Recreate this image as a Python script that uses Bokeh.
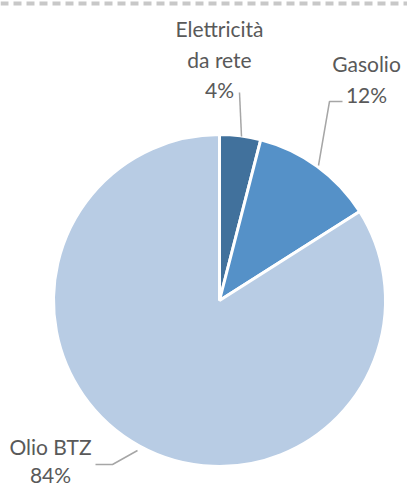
import math
from bokeh.plotting import figure
from bokeh.models import Range1d
from bokeh.core.properties import value
from bokeh.embed import file_html
from bokeh.resources import INLINE

# ---- data ----
categories = ["Elettricità da rete", "Gasolio", "Olio BTZ"]
shares = [4, 12, 84]
colors = ["#41719c", "#5591c8", "#b8cce4"]
label_lines = [["Elettricità", "da rete", "4%"], ["Gasolio", "12%"], ["Olio BTZ", "84%"]]

W, H = 407, 488
p = figure(width=W, height=H, output_backend="svg", toolbar_location=None,
           x_range=Range1d(0, W), y_range=Range1d(0, H),
           x_axis_type=None, y_axis_type=None, min_border=0)
p.grid.visible = False
p.outline_line_color = None
p.background_fill_color = "white"
p.border_fill_color = "white"

def px(xi):
    return xi

def py(yi):
    return H - yi

cx, cy, r = px(219), py(300), 166

# wedges computed from shares
total = sum(shares)
starts, ends = [], []
acc = 0.0
for s in shares:
    a0 = math.pi / 2 - 2 * math.pi * acc / total
    acc += s
    a1 = math.pi / 2 - 2 * math.pi * acc / total
    starts.append(a0)
    ends.append(a1)

p.wedge(x=[cx] * 3, y=[cy] * 3, radius=r, start_angle=starts, end_angle=ends,
        direction="clock", fill_color=colors, line_color="white", line_width=3)

# dashed border at top
p.line([0, W], [py(3), py(3)], line_color="#c8c8c8", line_width=4, line_dash="8 5")

# leader lines
lc = "#a6a6a6"
p.line([px(239), px(241)], [py(92), py(136)], line_color=lc, line_width=1.5)
p.line([px(342), px(329), px(318)], [py(101), py(101), py(165)], line_color=lc, line_width=1.5)
p.line([px(95), px(112), px(137)], [py(464), py(464), py(450)], line_color=lc, line_width=1.5)

# labels (text baselines; Bokeh renders ~9px lower than requested)
shift = 9
anchors = [(219, [37, 68, 98]), (366, [72, 103]), (50, [455, 483])]
for lines, (ax, bys) in zip(label_lines, anchors):
    p.text(x=[px(ax)] * len(lines), y=[py(b - shift) for b in bys], text=lines,
           text_font=value("Lato"), text_font_size="21px", text_color="#595959",
           text_align="center", text_baseline="alphabetic")

open("out.html", "w").write(file_html(p, INLINE))
